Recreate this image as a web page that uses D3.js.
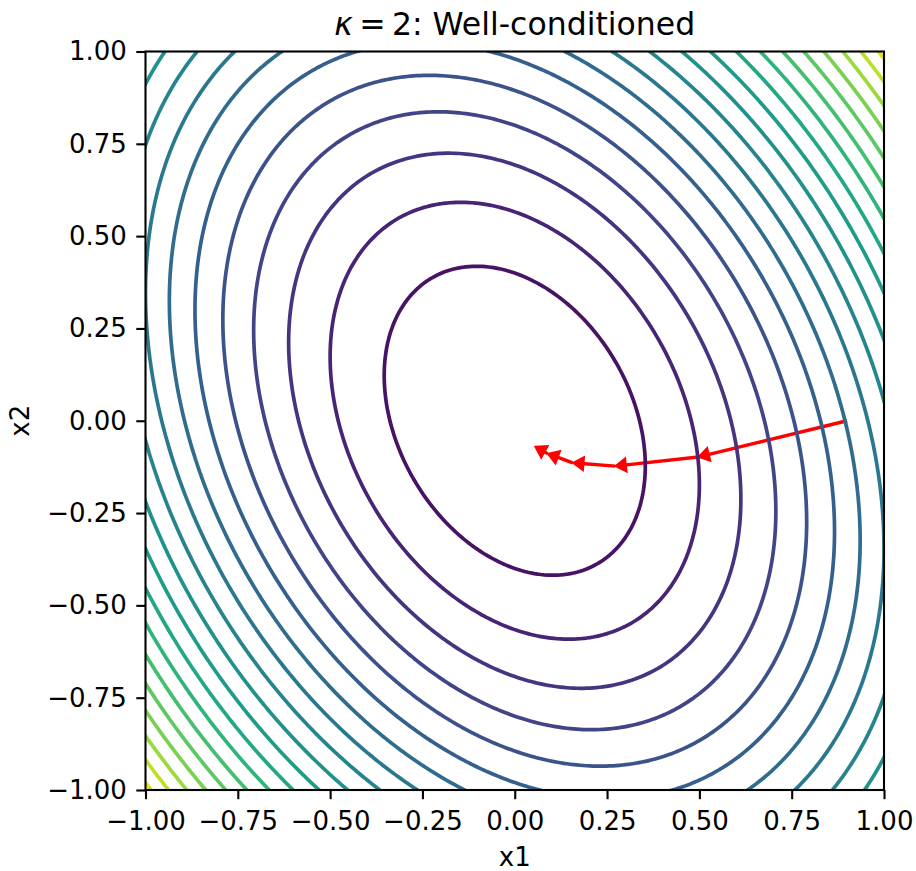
<!DOCTYPE html>
<html><head><meta charset="utf-8">
<script src="https://cdn.jsdelivr.net/npm/d3@7"></script>
<style>body{margin:0;background:#fff} svg{display:block}</style>
</head><body>
<script>
// ---- data ----
const titleText = "Well-conditioned";
const kappa = 2;
const xLabel = "x1";
const yLabel = "x2";
const xTicks = [-1, -0.75, -0.5, -0.25, 0, 0.25, 0.5, 0.75, 1];
const yTicks = [-1, -0.75, -0.5, -0.25, 0, 0.25, 0.5, 0.75, 1];
// quadratic objective f(x) = 1/2 x^T A x, A = [[A11, A12],[A12, A22]]
const A11 = 1.75, A12 = 0.433, A22 = 1.25;
const levels = [0.1, 0.2, 0.3, 0.4, 0.5, 0.6, 0.7, 0.8, 0.9, 1.0, 1.1, 1.2, 1.3, 1.4, 1.5, 1.6, 1.7, 1.8, 1.9];
const levelMin = 0, levelMax = 2.0;
// gradient-descent iterates
const pathX = [0.9, 0.497, 0.272, 0.157, 0.089, 0.055];
const pathY = [0.0, -0.098, -0.123, -0.114, -0.089, -0.070];

// ---- layout ----
const W = 916, H = 871;
const m = {left: 145.5, right: 884, top: 51.5, bottom: 790};
const x = d3.scaleLinear([-1, 1], [m.left, m.right]);
const y = d3.scaleLinear([-1, 1], [m.bottom, m.top]);
const color = d3.scaleSequential(d3.interpolateViridis).domain([levelMin, levelMax]);
const FONT = "DejaVu Sans";
const tickFS = 26, titleFS = 31.5;
const tickLen = 9.2;

const svg = d3.select("body").append("svg").attr("width", W).attr("height", H)
  .style("font-family", FONT);

svg.append("clipPath").attr("id", "clip").append("rect")
  .attr("x", m.left).attr("y", m.top)
  .attr("width", m.right - m.left).attr("height", m.bottom - m.top);

const plot = svg.append("g").attr("clip-path", "url(#clip)");

// ---- gradient descent arrows (drawn beneath contours) ----
const pts = pathX.map((v, i) => [x(v), y(pathY[i])]);
const headL = 11, headHW = 7;
const arrows = plot.append("g");
for (let k = 1; k < pts.length; k++) {
  const [x0, y0] = pts[k - 1], [x1, y1] = pts[k];
  const dx = x1 - x0, dy = y1 - y0, len = Math.hypot(dx, dy);
  const ux = dx / len, uy = dy / len, px = -uy, py = ux;
  const bx = x1 - ux * headL, by = y1 - uy * headL;
  arrows.append("line").attr("x1", x0).attr("y1", y0).attr("x2", bx + ux * 2).attr("y2", by + uy * 2)
    .attr("stroke", "red").attr("stroke-width", 3.4).attr("stroke-linecap", "butt");
  arrows.append("path")
    .attr("d", `M${x1},${y1}L${bx + px * headHW},${by + py * headHW}L${bx - px * headHW},${by - py * headHW}Z`)
    .attr("fill", "red").attr("stroke", "red").attr("stroke-width", 1.5).attr("stroke-linejoin", "miter");
}

// ---- contours ----
const n = 261, G0 = -1.15, step = 2.3 / (n - 1);
const values = new Float64Array(n * n);
for (let j = 0; j < n; j++) {
  const yv = G0 + j * step;
  for (let i = 0; i < n; i++) {
    const xv = G0 + i * step;
    values[j * n + i] = 0.5 * (A11 * xv * xv + 2 * A12 * xv * yv + A22 * yv * yv);
  }
}
const contours = d3.contours().size([n, n]).thresholds(levels)(values);
const proj = d3.geoTransform({
  point(px, py) { this.stream.point(x(G0 + (px - 0.5) * step), y(G0 + (py - 0.5) * step)); }
});
const gp = d3.geoPath(proj);
plot.append("g").selectAll("path").data(contours).join("path")
  .attr("d", gp).attr("fill", "none")
  .attr("stroke", d => color(d.value)).attr("stroke-width", 3.7).attr("stroke-linejoin", "round");

// ---- axes ----
const fmt = d3.format(".2f");
const gx = svg.append("g").attr("transform", `translate(0,${m.bottom})`)
  .call(d3.axisBottom(x).tickValues(xTicks).tickFormat(fmt).tickSize(tickLen).tickPadding(12.3).tickSizeOuter(0));
const gy = svg.append("g").attr("transform", `translate(${m.left},0)`)
  .call(d3.axisLeft(y).tickValues(yTicks).tickFormat(fmt).tickSize(tickLen).tickPadding(9.5).tickSizeOuter(0));
[gx, gy].forEach(g => {
  g.select(".domain").remove();
  g.selectAll(".tick line").attr("stroke", "#000").attr("stroke-width", 2.1);
  g.selectAll(".tick text").attr("fill", "#000").style("font-size", tickFS + "px").style("font-family", FONT);
});

svg.append("rect").attr("x", m.left).attr("y", m.top)
  .attr("width", m.right - m.left).attr("height", m.bottom - m.top)
  .attr("fill", "none").attr("stroke", "#000").attr("stroke-width", 2.1);

// labels
svg.append("text").attr("x", (m.left + m.right) / 2).attr("y", 866)
  .attr("text-anchor", "middle").style("font-size", tickFS + "px").text(xLabel);
svg.append("text").attr("transform", `translate(28.5,${(m.top + m.bottom) / 2}) rotate(-90)`)
  .attr("text-anchor", "middle").style("font-size", tickFS + "px").text(yLabel);

// title
const t = svg.append("text").attr("x", (m.left + m.right) / 2).attr("y", 35)
  .attr("text-anchor", "middle").style("font-size", titleFS + "px");
t.append("tspan").style("font-style", "italic").text("κ");
t.append("tspan").text("\u2009=\u2009" + kappa + ": " + titleText);
</script>
</body></html>
